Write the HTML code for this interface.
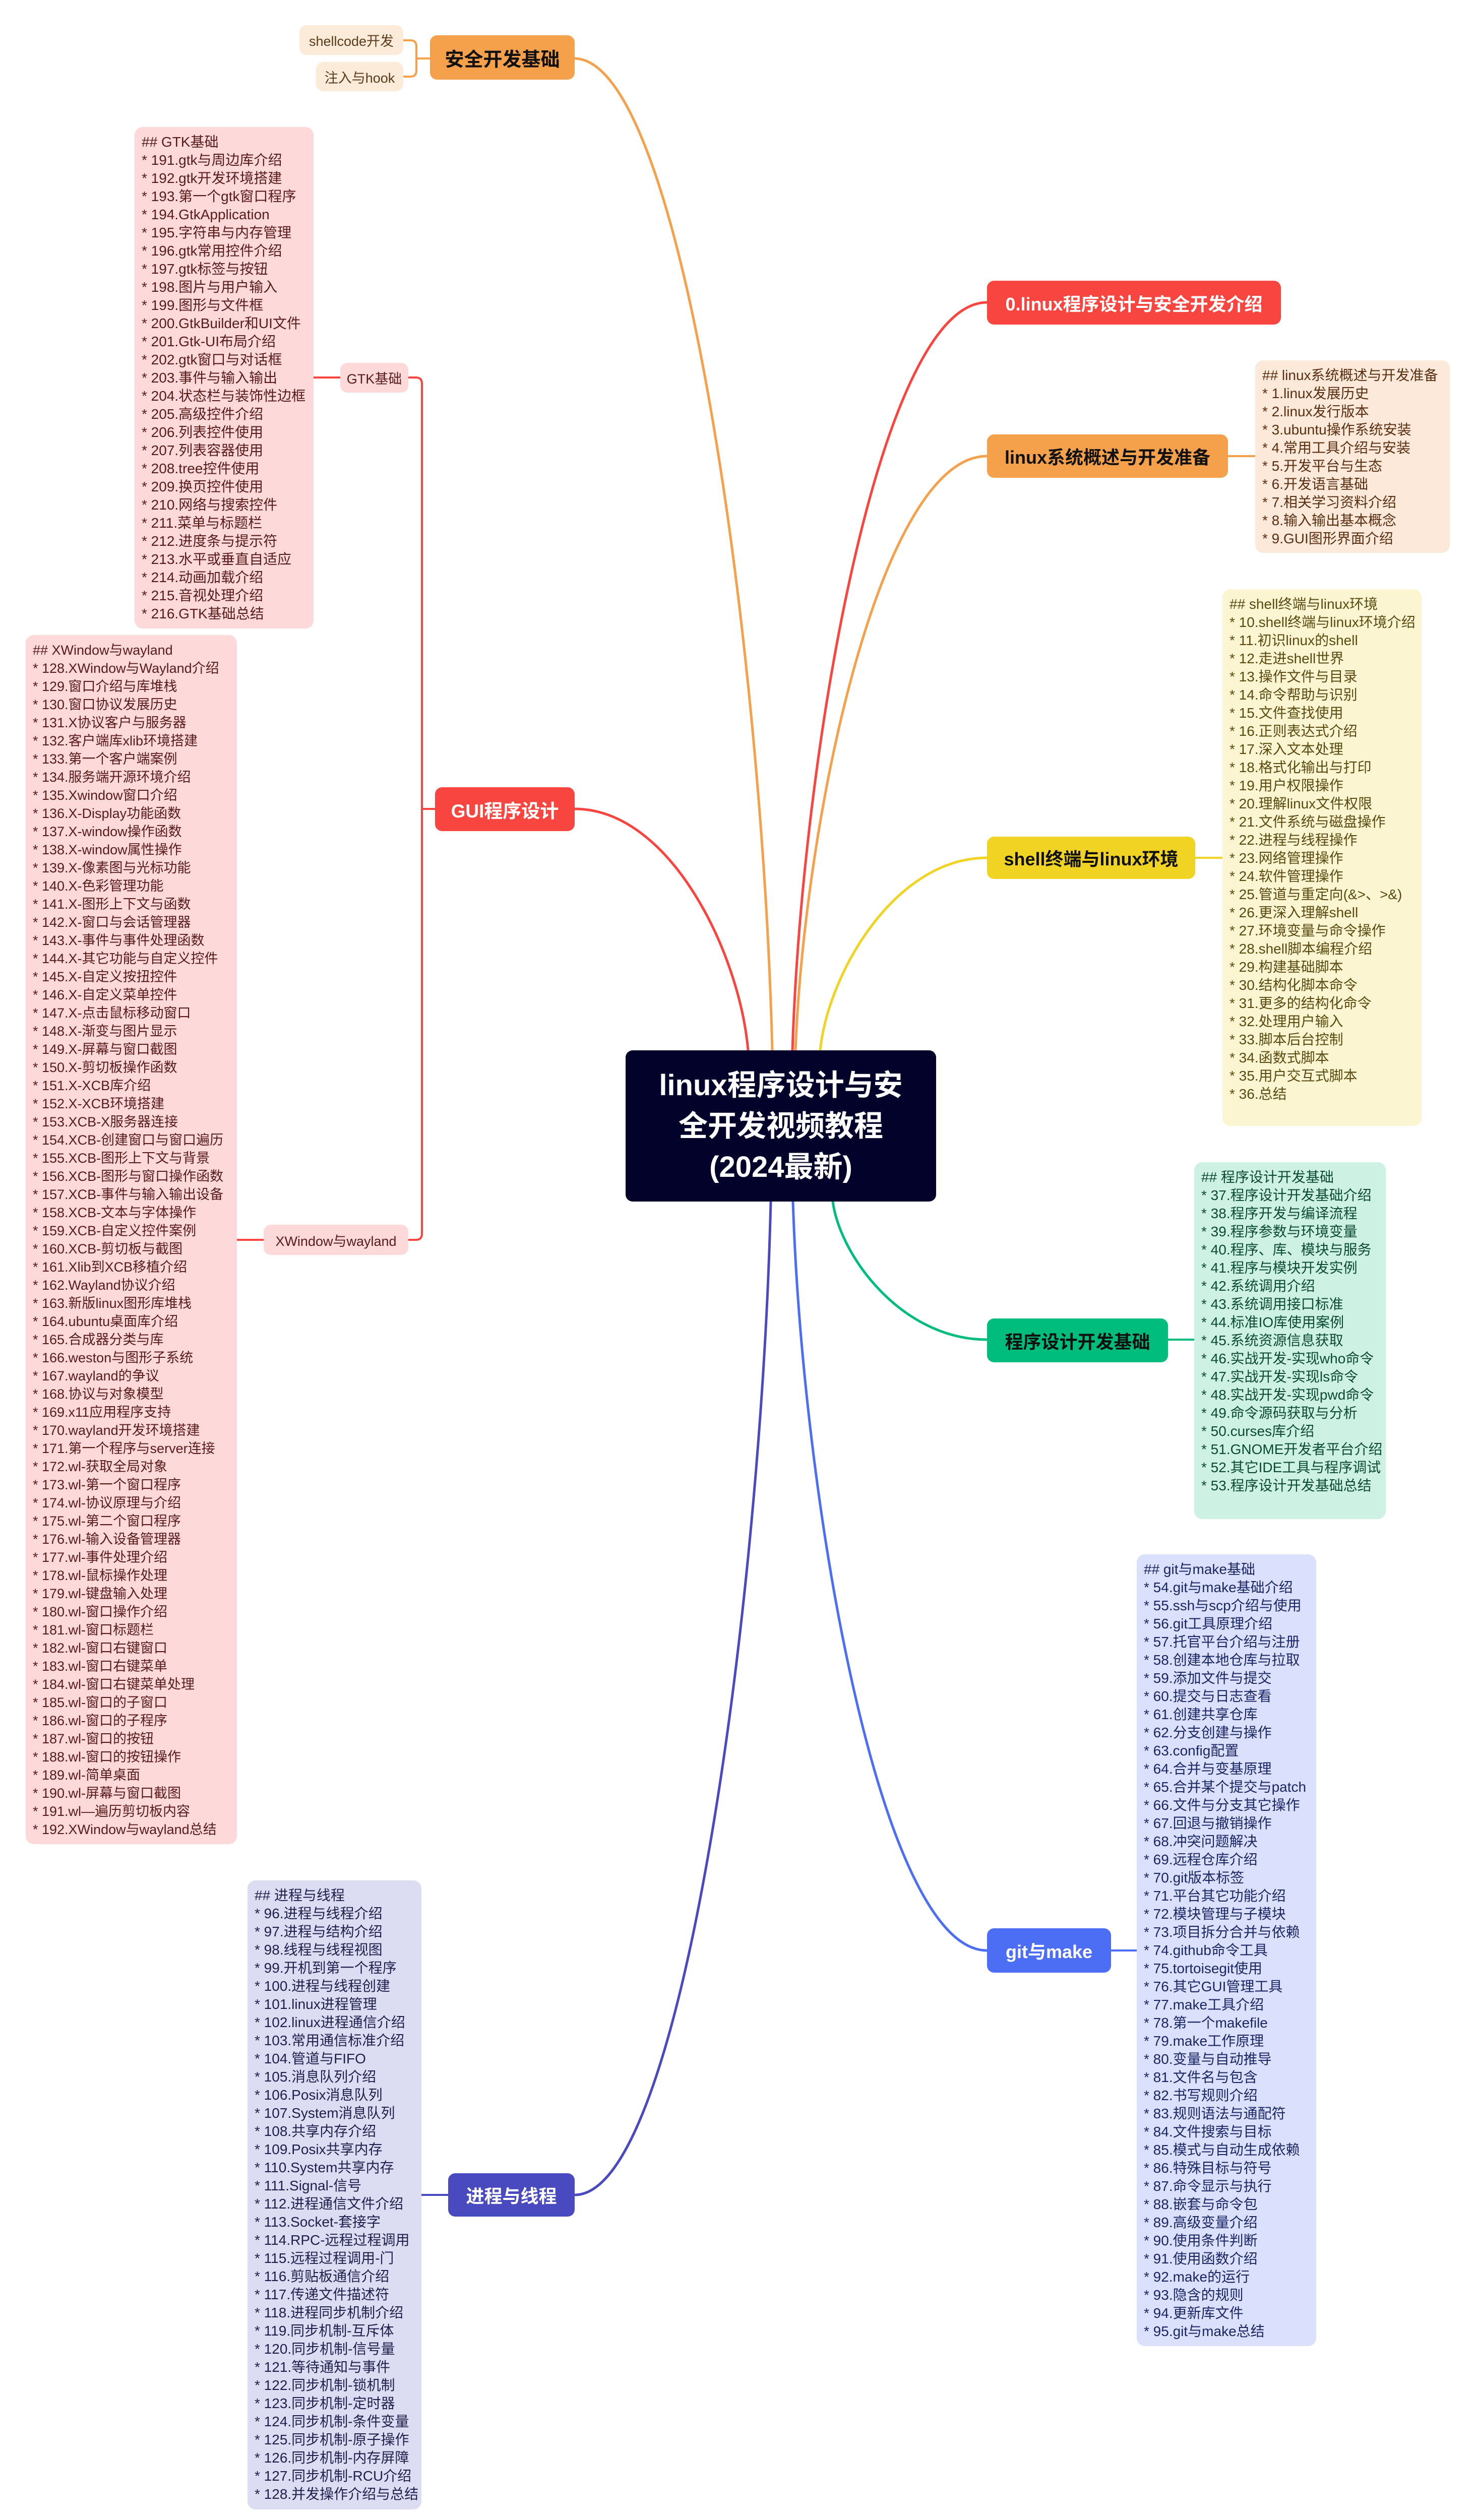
<!DOCTYPE html>
<html style="width:2928px;height:5098px;overflow:hidden"><head><meta charset="utf-8">
<style>
*{margin:0;padding:0;box-sizing:border-box}
body{width:2928px;height:5098px;background:#fff;position:relative;overflow:hidden;font-family:"Liberation Sans","Noto Sans CJK SC",sans-serif}
.n{position:absolute;display:flex;align-items:center;justify-content:center;border-radius:14px;font-weight:bold;white-space:nowrap;overflow:hidden}
.b{position:absolute;border-radius:16px;padding:12px 14px;font-size:28px;line-height:36px;white-space:pre;overflow:hidden}
svg{position:absolute;left:0;top:0}
</style></head><body>
<svg width="2928" height="5098" fill="none" stroke-width="5" stroke-linecap="round">
<path d="M1572 2084 C1591 1490 1746 600 1958 600" stroke="#f94540"/>
<path d="M1578 2084 C1597 1610 1749 905 1958 905" stroke="#f5a04a"/>
<path d="M1627 2084 C1643 1930 1776 1702 1958 1702" stroke="#f0d323"/>
<path d="M1532 2084 C1512 1295 1354 116 1139 116" stroke="#f5a04a"/>
<path d="M1484 2084 C1467 1890 1329 1605 1140 1605" stroke="#f94540"/>
<path d="M1652 2384 C1667 2494 1790 2658 1958 2658" stroke="#00bd7e"/>
<path d="M1573 2384 C1592 2978 1746 3870 1958 3870" stroke="#4c6ef5"/>
<path d="M1529 2384 C1510 3172 1354 4355 1140 4355" stroke="#4a4ac0"/>
<path d="M800 80 L814 80 Q826 80 826 92 L826 140 Q826 152 814 152 L800 152 M826 116 L853 116" stroke="#f5a04a" stroke-width="4"/>
<path d="M810 749 L825 749 Q837 749 837 761 L837 2448 Q837 2460 825 2460 L810 2460 M837 1605 L863 1605" stroke="#f94540" stroke-width="4"/>
<path d="M622 749 L675 749" stroke="#f94540" stroke-width="4"/>
<path d="M470 2460 L523 2460" stroke="#f94540" stroke-width="4"/>
<path d="M2436 905 L2490 905" stroke="#f5a04a" stroke-width="4"/>
<path d="M2371 1702 L2425 1702" stroke="#f0d323" stroke-width="4"/>
<path d="M2317 2658 L2369 2658" stroke="#00bd7e" stroke-width="4"/>
<path d="M2204 3870 L2255 3870" stroke="#4c6ef5" stroke-width="4"/>
<path d="M836 4355 L889 4355" stroke="#4a4ac0" stroke-width="4"/>
</svg>

<div class="n" style="left:1241px;top:2084px;width:616px;height:300px;background:#02022a;color:#fff;font-size:58px;line-height:81px;text-align:center;white-space:normal;padding:0 50px">linux程序设计与安全开发视频教程(2024最新)</div>

<div class="n" style="left:853px;top:70px;width:287px;height:88px;background:#f5a04a;color:#111;font-size:38px">安全开发基础</div>
<div class="n" style="left:594px;top:50px;width:206px;height:59px;background:#fdebd9;color:#5a3a1a;font-size:27px;font-weight:normal">shellcode开发</div>
<div class="n" style="left:627px;top:123px;width:173px;height:58px;background:#fdebd9;color:#5a3a1a;font-size:27px;font-weight:normal">注入与hook</div>

<div class="n" style="left:863px;top:1562px;width:277px;height:87px;background:#f94540;color:#fff;font-size:37px">GUI程序设计</div>
<div class="n" style="left:675px;top:720px;width:135px;height:59px;background:#fdd9d9;color:#5a1a1a;font-size:27px;font-weight:normal">GTK基础</div>
<div class="n" style="left:523px;top:2430px;width:287px;height:60px;background:#fdd9d9;color:#5a1a1a;font-size:27px;font-weight:normal">XWindow与wayland</div>

<div class="b" style="left:267px;top:252px;width:355px;height:995px;background:#fdd9d9;color:#5a1a1a">## GTK基础
* 191.gtk与周边库介绍
* 192.gtk开发环境搭建
* 193.第一个gtk窗口程序
* 194.GtkApplication
* 195.字符串与内存管理
* 196.gtk常用控件介绍
* 197.gtk标签与按钮
* 198.图片与用户输入
* 199.图形与文件框
* 200.GtkBuilder和UI文件
* 201.Gtk-UI布局介绍
* 202.gtk窗口与对话框
* 203.事件与输入输出
* 204.状态栏与装饰性边框
* 205.高级控件介绍
* 206.列表控件使用
* 207.列表容器使用
* 208.tree控件使用
* 209.换页控件使用
* 210.网络与搜索控件
* 211.菜单与标题栏
* 212.进度条与提示符
* 213.水平或垂直自适应
* 214.动画加载介绍
* 215.音视处理介绍
* 216.GTK基础总结</div>

<div class="b" style="left:51px;top:1260px;width:419px;height:2399px;background:#fdd9d9;color:#5a1a1a;font-size:27px">## XWindow与wayland
* 128.XWindow与Wayland介绍
* 129.窗口介绍与库堆栈
* 130.窗口协议发展历史
* 131.X协议客户与服务器
* 132.客户端库xlib环境搭建
* 133.第一个客户端案例
* 134.服务端开源环境介绍
* 135.Xwindow窗口介绍
* 136.X-Display功能函数
* 137.X-window操作函数
* 138.X-window属性操作
* 139.X-像素图与光标功能
* 140.X-色彩管理功能
* 141.X-图形上下文与函数
* 142.X-窗口与会话管理器
* 143.X-事件与事件处理函数
* 144.X-其它功能与自定义控件
* 145.X-自定义按扭控件
* 146.X-自定义菜单控件
* 147.X-点击鼠标移动窗口
* 148.X-渐变与图片显示
* 149.X-屏幕与窗口截图
* 150.X-剪切板操作函数
* 151.X-XCB库介绍
* 152.X-XCB环境搭建
* 153.XCB-X服务器连接
* 154.XCB-创建窗口与窗口遍历
* 155.XCB-图形上下文与背景
* 156.XCB-图形与窗口操作函数
* 157.XCB-事件与输入输出设备
* 158.XCB-文本与字体操作
* 159.XCB-自定义控件案例
* 160.XCB-剪切板与截图
* 161.Xlib到XCB移植介绍
* 162.Wayland协议介绍
* 163.新版linux图形库堆栈
* 164.ubuntu桌面库介绍
* 165.合成器分类与库
* 166.weston与图形子系统
* 167.wayland的争议
* 168.协议与对象模型
* 169.x11应用程序支持
* 170.wayland开发环境搭建
* 171.第一个程序与server连接
* 172.wl-获取全局对象
* 173.wl-第一个窗口程序
* 174.wl-协议原理与介绍
* 175.wl-第二个窗口程序
* 176.wl-输入设备管理器
* 177.wl-事件处理介绍
* 178.wl-鼠标操作处理
* 179.wl-键盘输入处理
* 180.wl-窗口操作介绍
* 181.wl-窗口标题栏
* 182.wl-窗口右键窗口
* 183.wl-窗口右键菜单
* 184.wl-窗口右键菜单处理
* 185.wl-窗口的子窗口
* 186.wl-窗口的子程序
* 187.wl-窗口的按钮
* 188.wl-窗口的按钮操作
* 189.wl-简单桌面
* 190.wl-屏幕与窗口截图
* 191.wl—遍历剪切板内容
* 192.XWindow与wayland总结</div>

<div class="n" style="left:1958px;top:557px;width:583px;height:87px;background:#f94540;color:#fff;font-size:36px">0.linux程序设计与安全开发介绍</div>

<div class="n" style="left:1958px;top:862px;width:478px;height:86px;background:#f5a04a;color:#111;font-size:36px">linux系统概述与开发准备</div>
<div class="b" style="left:2490px;top:715px;width:386px;height:382px;background:#fde9d9;color:#5a2e10">## linux系统概述与开发准备
* 1.linux发展历史
* 2.linux发行版本
* 3.ubuntu操作系统安装
* 4.常用工具介绍与安装
* 5.开发平台与生态
* 6.开发语言基础
* 7.相关学习资料介绍
* 8.输入输出基本概念
* 9.GUI图形界面介绍</div>

<div class="n" style="left:1958px;top:1660px;width:413px;height:84px;background:#f0d323;color:#111;font-size:36px">shell终端与linux环境</div>
<div class="b" style="left:2425px;top:1169px;width:395px;height:1065px;background:#fcf5d2;color:#5a4a10">## shell终端与linux环境
* 10.shell终端与linux环境介绍
* 11.初识linux的shell
* 12.走进shell世界
* 13.操作文件与目录
* 14.命令帮助与识别
* 15.文件查找使用
* 16.正则表达式介绍
* 17.深入文本处理
* 18.格式化输出与打印
* 19.用户权限操作
* 20.理解linux文件权限
* 21.文件系统与磁盘操作
* 22.进程与线程操作
* 23.网络管理操作
* 24.软件管理操作
* 25.管道与重定向(&amp;&gt;、&gt;&amp;)
* 26.更深入理解shell
* 27.环境变量与命令操作
* 28.shell脚本编程介绍
* 29.构建基础脚本
* 30.结构化脚本命令
* 31.更多的结构化命令
* 32.处理用户输入
* 33.脚本后台控制
* 34.函数式脚本
* 35.用户交互式脚本
* 36.总结</div>

<div class="n" style="left:1958px;top:2616px;width:359px;height:87px;background:#00bd7e;color:#111;font-size:36px">程序设计开发基础</div>
<div class="b" style="left:2369px;top:2306px;width:380px;height:708px;background:#cdf1e3;color:#0b4a33">## 程序设计开发基础
* 37.程序设计开发基础介绍
* 38.程序开发与编译流程
* 39.程序参数与环境变量
* 40.程序、库、模块与服务
* 41.程序与模块开发实例
* 42.系统调用介绍
* 43.系统调用接口标准
* 44.标准IO库使用案例
* 45.系统资源信息获取
* 46.实战开发-实现who命令
* 47.实战开发-实现ls命令
* 48.实战开发-实现pwd命令
* 49.命令源码获取与分析
* 50.curses库介绍
* 51.GNOME开发者平台介绍
* 52.其它IDE工具与程序调试
* 53.程序设计开发基础总结</div>

<div class="n" style="left:1958px;top:3826px;width:246px;height:88px;background:#4c6ef5;color:#fff;font-size:36px">git与make</div>
<div class="b" style="left:2255px;top:3084px;width:356px;height:1571px;background:#dbe1fc;color:#1a2566">## git与make基础
* 54.git与make基础介绍
* 55.ssh与scp介绍与使用
* 56.git工具原理介绍
* 57.托官平台介绍与注册
* 58.创建本地仓库与拉取
* 59.添加文件与提交
* 60.提交与日志查看
* 61.创建共享仓库
* 62.分支创建与操作
* 63.config配置
* 64.合并与变基原理
* 65.合并某个提交与patch
* 66.文件与分支其它操作
* 67.回退与撤销操作
* 68.冲突问题解决
* 69.远程仓库介绍
* 70.git版本标签
* 71.平台其它功能介绍
* 72.模块管理与子模块
* 73.项目拆分合并与依赖
* 74.github命令工具
* 75.tortoisegit使用
* 76.其它GUI管理工具
* 77.make工具介绍
* 78.第一个makefile
* 79.make工作原理
* 80.变量与自动推导
* 81.文件名与包含
* 82.书写规则介绍
* 83.规则语法与通配符
* 84.文件搜索与目标
* 85.模式与自动生成依赖
* 86.特殊目标与符号
* 87.命令显示与执行
* 88.嵌套与命令包
* 89.高级变量介绍
* 90.使用条件判断
* 91.使用函数介绍
* 92.make的运行
* 93.隐含的规则
* 94.更新库文件
* 95.git与make总结</div>

<div class="n" style="left:889px;top:4312px;width:251px;height:86px;background:#4a4ac0;color:#fff;font-size:36px">进程与线程</div>
<div class="b" style="left:491px;top:3731px;width:345px;height:1248px;background:#dcdcf2;color:#1f1f4d">## 进程与线程
* 96.进程与线程介绍
* 97.进程与结构介绍
* 98.线程与线程视图
* 99.开机到第一个程序
* 100.进程与线程创建
* 101.linux进程管理
* 102.linux进程通信介绍
* 103.常用通信标准介绍
* 104.管道与FIFO
* 105.消息队列介绍
* 106.Posix消息队列
* 107.System消息队列
* 108.共享内存介绍
* 109.Posix共享内存
* 110.System共享内存
* 111.Signal-信号
* 112.进程通信文件介绍
* 113.Socket-套接字
* 114.RPC-远程过程调用
* 115.远程过程调用-门
* 116.剪贴板通信介绍
* 117.传递文件描述符
* 118.进程同步机制介绍
* 119.同步机制-互斥体
* 120.同步机制-信号量
* 121.等待通知与事件
* 122.同步机制-锁机制
* 123.同步机制-定时器
* 124.同步机制-条件变量
* 125.同步机制-原子操作
* 126.同步机制-内存屏障
* 127.同步机制-RCU介绍
* 128.并发操作介绍与总结</div>

<div style="position:absolute;left:1217px;top:5030px;width:494px;height:50px;line-height:50px;text-align:center;font-size:40px;font-weight:bold;color:#c8c8c8;white-space:nowrap">Presented with XMind</div>
</body></html>
